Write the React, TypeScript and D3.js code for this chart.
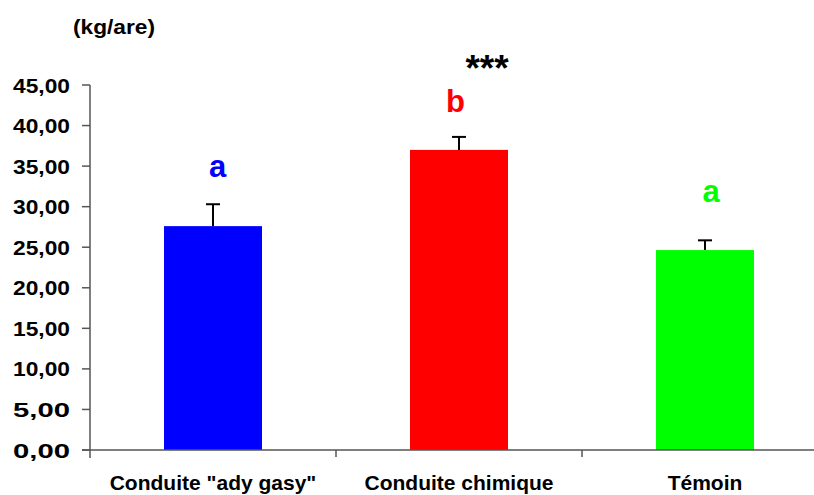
import React from "react";
import * as d3 from "d3";

const categories = ['Conduite "ady gasy"', "Conduite chimique", "Témoin"];
const values = [27.6, 37.0, 24.65];
const errors = [2.7, 1.6, 1.2];
const letters = ["a", "b", "a"];
const colors = ["#0000ff", "#ff0000", "#00ff00"];
const yTicks = [0, 5, 10, 15, 20, 25, 30, 35, 40, 45];

export default function App() {
  const W = 814, H = 495;
  const x0 = 90, y0 = 450, yTop = 85;
  const band = 246;
  const x = d3.scaleBand<string>().domain(categories).range([x0, x0 + band * 3]).paddingInner(0).paddingOuter(0);
  const y = d3.scaleLinear().domain([0, 45]).range([y0, yTop]);
  const bw = 98;
  const fmt = (v: number) => v.toFixed(2).replace(".", ",");
  const font = "Arial, 'Liberation Sans', sans-serif";
  const letterDx = [4.5, -3.5, 6];
  const letterY = [177, 112, 202];
  return (
    <svg width={W} height={H} style={{ position: "absolute", left: 0, top: 0, background: "#fff" }}>
      <text x={73} y={34} fontFamily={font} fontWeight="bold" fontSize={21} textLength={82} lengthAdjust="spacingAndGlyphs">(kg/are)</text>
      {categories.map((c, i) => {
        const cx = (x(c) as number) + x.bandwidth() / 2;
        const top = y(values[i]);
        const et = y(values[i] + errors[i]);
        return (
          <g key={c}>
            <rect x={cx - bw / 2} y={top} width={bw} height={y0 - top} fill={colors[i]} />
            <line x1={cx} x2={cx} y1={top} y2={et} stroke="#000" strokeWidth={2} />
            <line x1={cx - 7} x2={cx + 7} y1={et} y2={et} stroke="#000" strokeWidth={2} />
            <text x={cx + letterDx[i]} y={letterY[i]} textAnchor="middle" fill={colors[i]} fontFamily={font} fontWeight="bold" fontSize={31}>{letters[i]}</text>
            <text x={cx} y={490} textAnchor="middle" fontFamily={font} fontWeight="bold" fontSize={21}>{c}</text>
          </g>
        );
      })}
      <text x={487} y={81} textAnchor="middle" fontFamily={font} fontWeight="bold" fontSize={37}>***</text>
      {yTicks.map((t) => (
        <g key={t}>
          <line x1={82} x2={x0} y1={y(t)} y2={y(t)} stroke="#555" strokeWidth={1.5} />
          <text x={70} y={y(t) + 7.5} textAnchor="end" fontFamily={font} fontWeight="bold" fontSize={21} textLength={57} lengthAdjust="spacingAndGlyphs">{fmt(t)}</text>
        </g>
      ))}
      <line x1={x0} x2={x0} y1={yTop} y2={y0 + 8} stroke="#555" strokeWidth={1.5} />
      <line x1={x0 - 8} x2={x0 + band * 3} y1={y0} y2={y0} stroke="#555" strokeWidth={1.5} />
      {[1, 2].map((k) => (
        <line key={k} x1={x0 + band * k} x2={x0 + band * k} y1={y0} y2={y0 + 7} stroke="#555" strokeWidth={1.5} />
      ))}
    </svg>
  );
}
